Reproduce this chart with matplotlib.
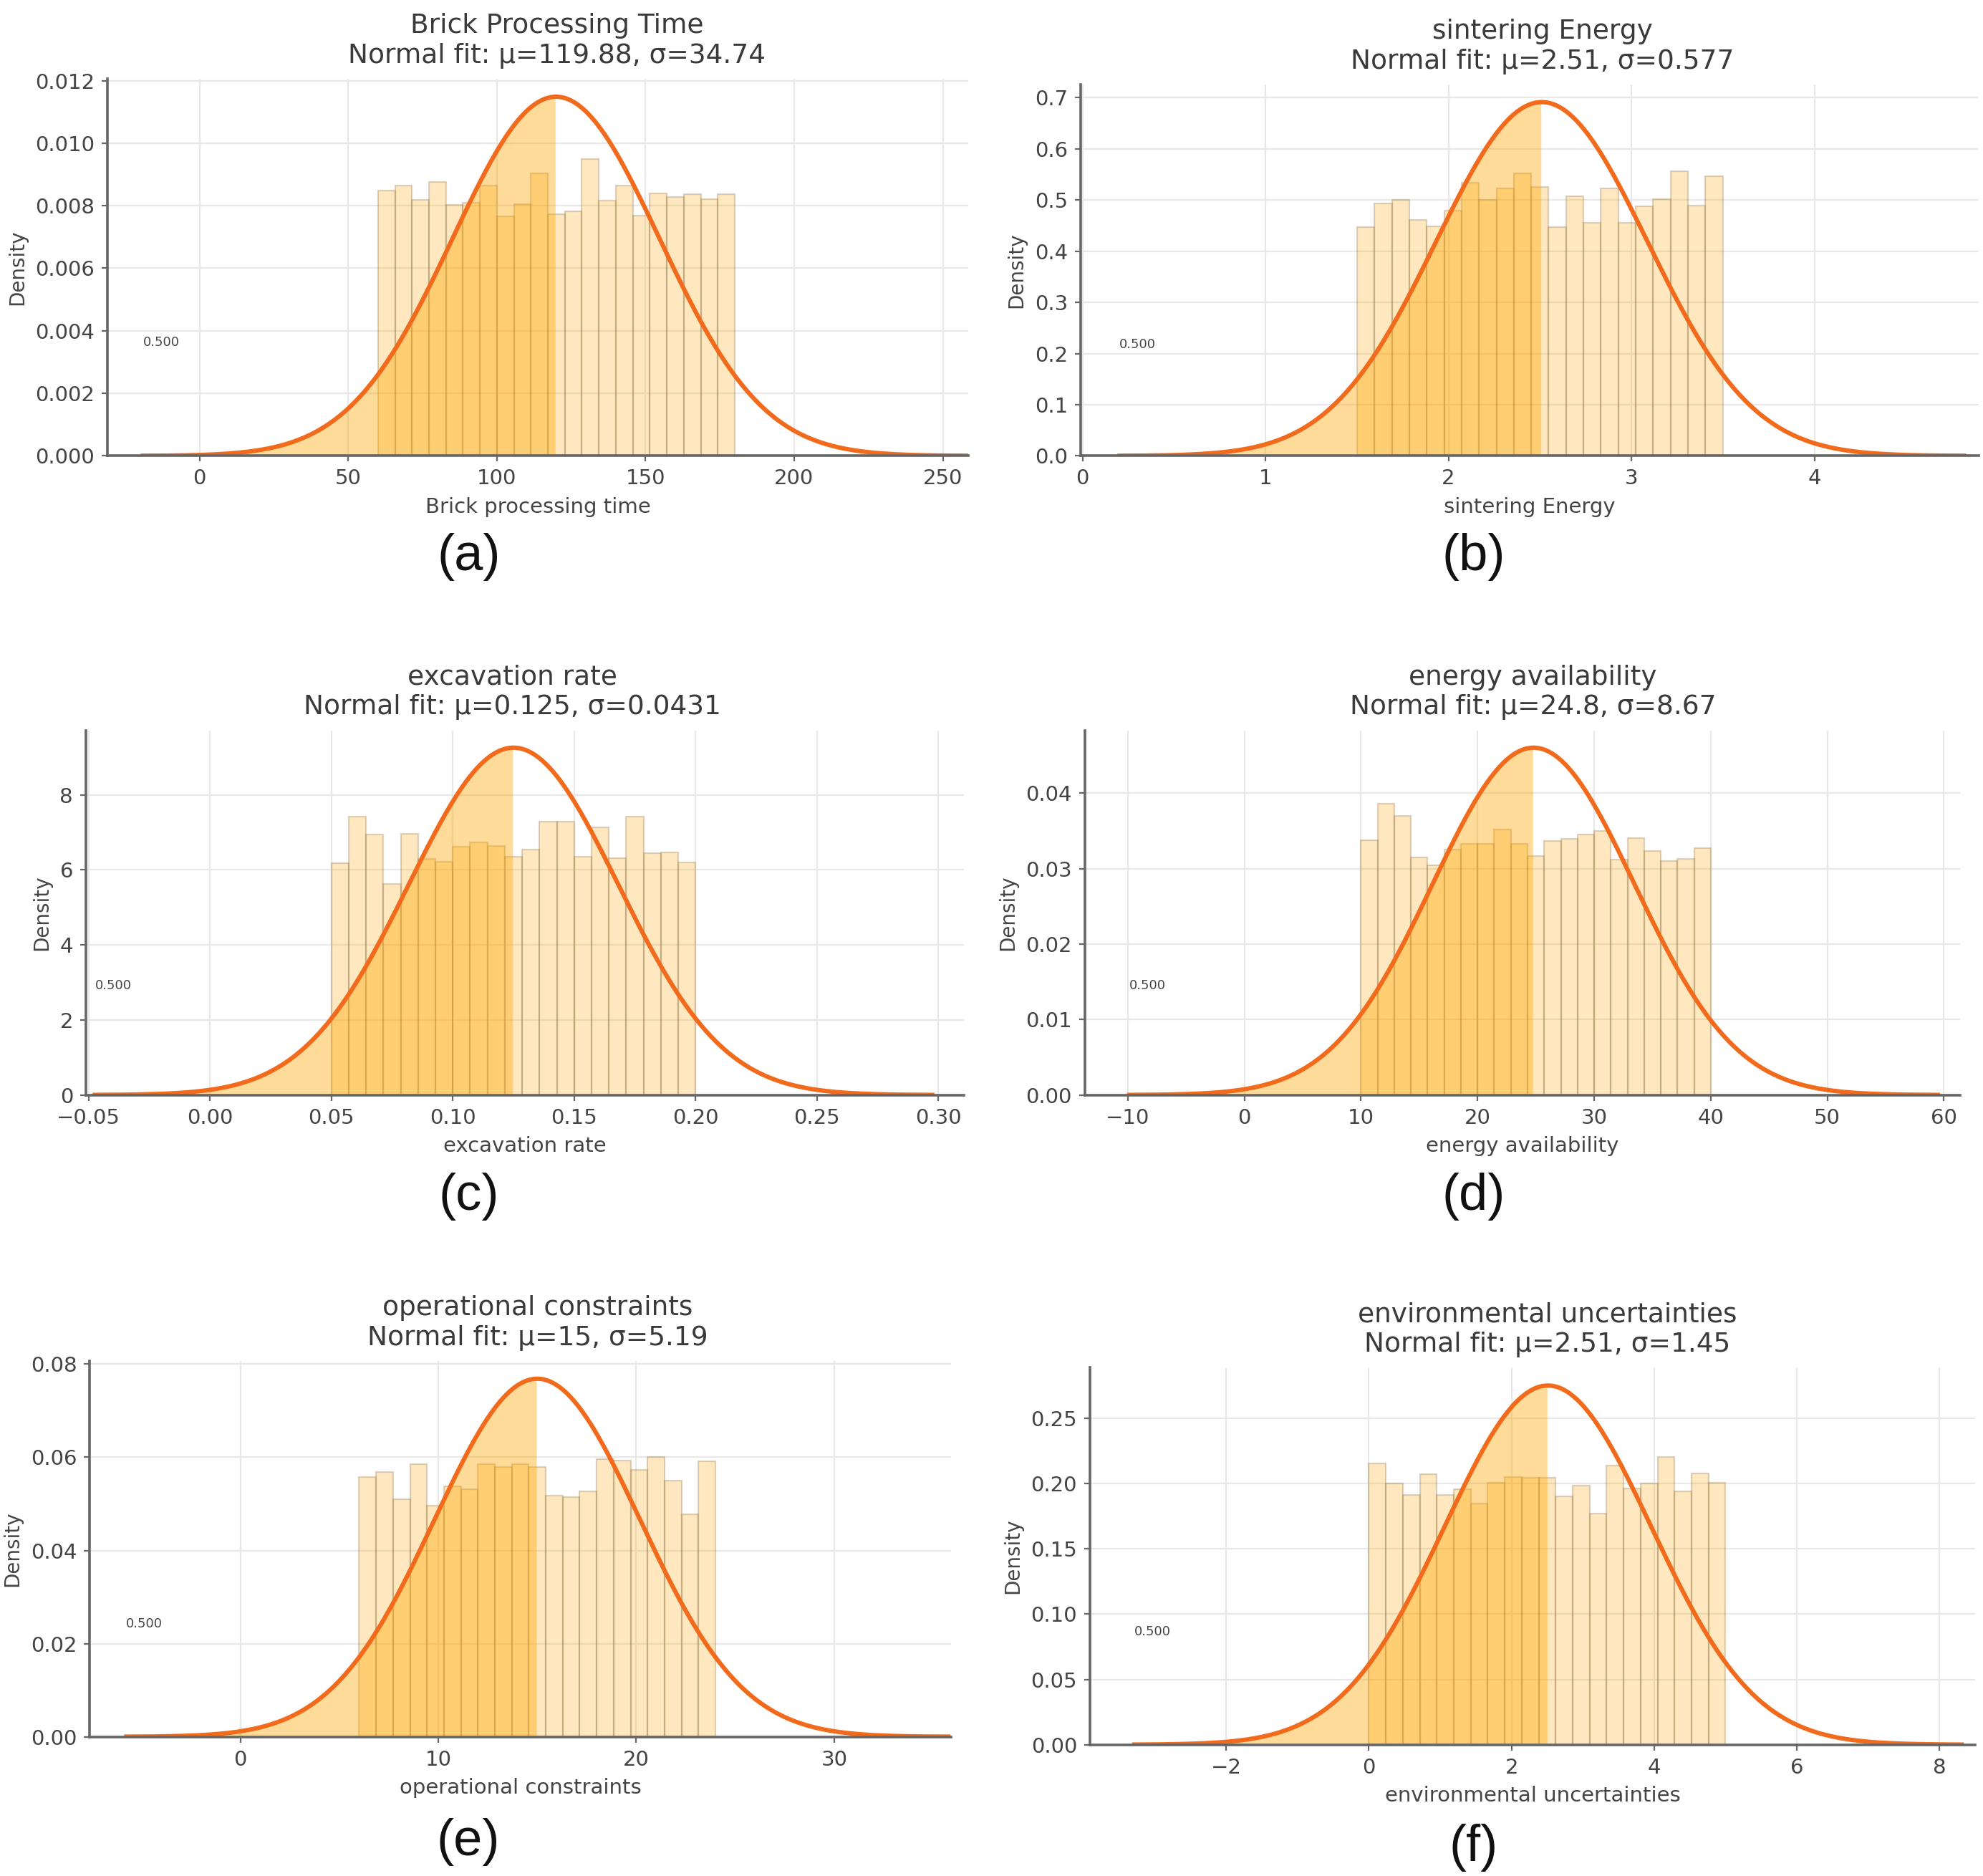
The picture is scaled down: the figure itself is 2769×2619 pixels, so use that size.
import numpy as np
import matplotlib.pyplot as plt
from matplotlib.ticker import MultipleLocator

# Data
titles = ['Brick Processing Time', 'sintering Energy', 'excavation rate',
          'energy availability', 'operational constraints', 'environmental uncertainties']
xlabels = ['Brick processing time', 'sintering Energy', 'excavation rate',
           'energy availability', 'operational constraints', 'environmental uncertainties']
tags = ['(a)', '(b)', '(c)', '(d)', '(e)', '(f)']
mus = [119.88, 2.51, 0.125, 24.8, 15, 2.51]
sigmas = [34.74, 0.577, 0.0431, 8.67, 5.19, 1.45]
data_ranges = [(60, 180), (1.5, 3.5), (0.05, 0.20), (10, 40), (6, 24), (0, 5)]

dens_a = [0.00848, 0.00865, 0.00819, 0.00877, 0.00802, 0.0081, 0.00865, 0.00765, 0.00804, 0.00904, 0.00773,
          0.00781, 0.0095, 0.00817, 0.00865, 0.00769, 0.0084, 0.00827, 0.00838, 0.00822, 0.00838]
dens_b = [0.447, 0.494, 0.50, 0.461, 0.449, 0.48, 0.534, 0.50, 0.523, 0.552, 0.526,
          0.447, 0.508, 0.455, 0.523, 0.455, 0.488, 0.502, 0.557, 0.489, 0.547]
dens_c = [6.18, 7.42, 6.94, 5.63, 6.96, 6.29, 6.22, 6.61, 6.74, 6.63, 6.35,
          6.54, 7.28, 7.28, 6.35, 7.14, 6.32, 7.42, 6.44, 6.46, 6.19]
dens_d = [0.0338, 0.0386, 0.0370, 0.0315, 0.0304, 0.0325, 0.0333, 0.0333, 0.0352, 0.0333, 0.0317,
          0.0337, 0.0339, 0.0345, 0.0350, 0.0312, 0.0340, 0.0323, 0.0310, 0.0313, 0.0327]
dens_e = [0.0558, 0.0568, 0.0510, 0.0585, 0.0496, 0.0538, 0.0532, 0.0585, 0.0579, 0.0586, 0.0579,
          0.0518, 0.0515, 0.0527, 0.0596, 0.0593, 0.0573, 0.0600, 0.0550, 0.0477, 0.0592]
dens_f = [0.2153, 0.2000, 0.1913, 0.2072, 0.1913, 0.1960, 0.1847, 0.2006, 0.2050, 0.2043, 0.2043,
          0.1905, 0.1986, 0.1772, 0.2136, 0.1962, 0.2000, 0.2202, 0.1942, 0.2078, 0.2006]
densities = [dens_a, dens_b, dens_c, dens_d, dens_e, dens_f]
note = '0.500'

# Layout (figure fractions) and visible x ranges of the cropped panels
rects = [(0.0542, 0.757, 0.434, 0.201), (0.545, 0.757, 0.453, 0.198),
         (0.0434, 0.4163, 0.4426, 0.1944), (0.547, 0.4163, 0.4415, 0.1944),
         (0.0453, 0.0742, 0.4343, 0.2004), (0.5497, 0.070, 0.4463, 0.201)]
xlims = [(-31, 258.5), (-0.01, 4.9), (-0.051, 0.3104), (-13.7, 61.4), (-7.6, 35.9), (-3.91, 8.5)]
xsteps = [50, 1, 0.05, 10, 10, 2]
title_x = [0.522, 0.514, 0.486, 0.512, 0.52, 0.517]
tag_pos = [(0.2366, 0.703), (0.743, 0.703), (0.2366, 0.3623), (0.743, 0.3623),
           (0.236, 0.018), (0.743, 0.015)]

plt.rcParams['font.family'] = ['DejaVu Sans']

fig = plt.figure(figsize=(13.845, 13.095), dpi=200)

for i in range(6):
    ax = fig.add_axes(rects[i])
    mu, sd = mus[i], sigmas[i]
    lo, hi = data_ranges[i]
    edges = np.linspace(lo, hi, len(densities[i]) + 1)
    ax.hist(edges[:-1], bins=edges, weights=densities[i],
            facecolor=(1.0, 0.647, 0.0, 0.25), edgecolor=(0.55, 0.45, 0.3, 0.3), linewidth=0.8)

    x = np.linspace(mu - 4 * sd, mu + 4 * sd, 500)
    pdf = np.exp(-0.5 * ((x - mu) / sd) ** 2) / (sd * np.sqrt(2 * np.pi))
    ax.fill_between(x, pdf, where=x <= mu, color='orange', alpha=0.4, linewidth=0)
    ax.plot(x, pdf, color='#f26a1b', lw=2.2)

    ax.text(mu - 4 * sd, 0.30, note, transform=ax.get_xaxis_transform(),
            fontsize=6.5, color='#444444', va='center', ha='left')

    ax.set_xlim(xlims[i])
    ax.set_ylim(0, pdf.max() * 1.05)
    ax.xaxis.set_major_locator(MultipleLocator(xsteps[i]))
    ax.set_title(f'{titles[i]}\nNormal fit: μ={mu:g}, σ={sd:g}', fontsize=13.5,
                 color='#3a3a3a', x=title_x[i], pad=8)
    ax.set_xlabel(xlabels[i], fontsize=10.5, color='#444444')
    ax.set_ylabel('Density', fontsize=10, color='#444444')

    ax.grid(True, color='#e8e8e8', lw=0.8)
    ax.set_axisbelow(True)
    for side in ['top', 'right']:
        ax.spines[side].set_visible(False)
    for side in ['left', 'bottom']:
        ax.spines[side].set_color('#666666')
        ax.spines[side].set_linewidth(1.3)
    ax.tick_params(length=3, width=0.8, color='#666666', labelcolor='#444444', labelsize=10.5)

    fig.text(tag_pos[i][0], tag_pos[i][1], tags[i], fontsize=26, family='Liberation Sans',
             ha='center', va='center', color='#111111')

fig.savefig('out.png', dpi=200)
